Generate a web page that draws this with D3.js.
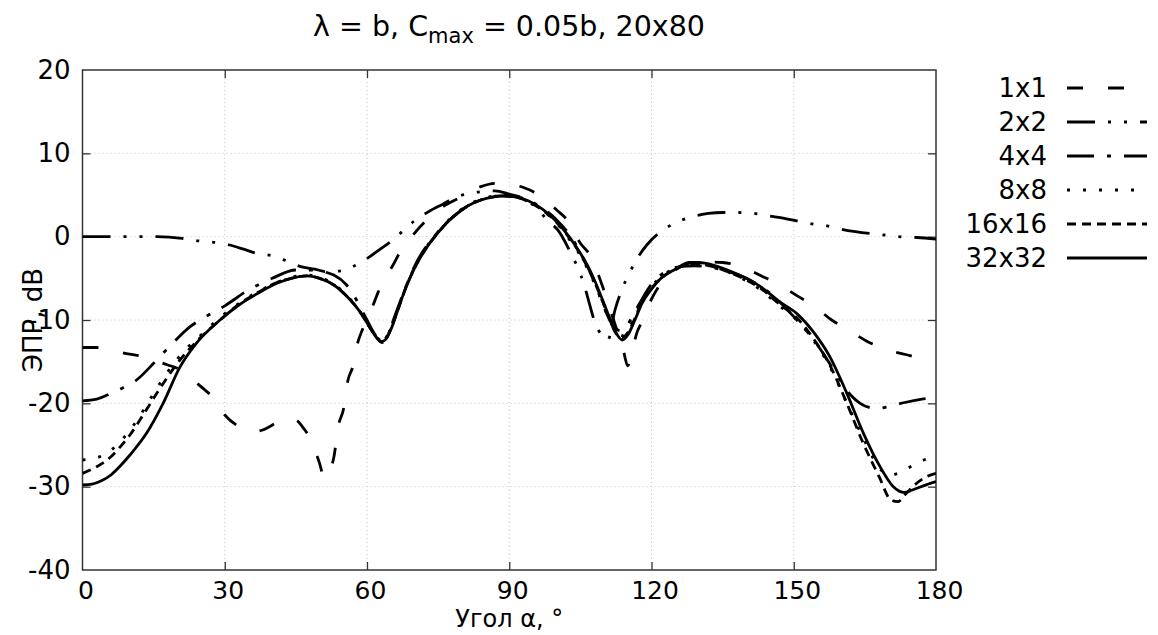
<!DOCTYPE html>
<html>
<head>
<meta charset="utf-8">
<script src="https://cdn.jsdelivr.net/npm/d3@7"></script>
<style>
  html, body { margin: 0; padding: 0; background: #fff; }
  svg { display: block; }
  text { font-family: "DejaVu Sans", sans-serif; fill: #000; }
</style>
</head>
<body>
<svg id="chart" width="1158" height="635"></svg>
<script>
// ---------- data ----------
const xTicks = [0, 30, 60, 90, 120, 150, 180];
const yTicks = [-40, -30, -20, -10, 0, 10, 20];
const seriesNames = ["1x1", "2x2", "4x4", "8x8", "16x16", "32x32"];

const angles1x1 = [0,3,6,9,12,15,18,20,23,25,27,30,33,36,38,41,43,45,46.5,48,50,51,52,53,54,55,56,57,58,59,60,61.3,62.4,64,65.5,67,70,72.6,75,80,84,87,90,93,96,100,102.5,105,107,110,112,114,115,116,117,118,120,125,130,135,138,143.5,146.5,151,154,158,161,165.6,168.8,174,177,180];
const values1x1 = [-13.3,-13.3,-13.6,-14,-14.3,-14.8,-15.4,-15.8,-17,-18,-19,-21.4,-22.8,-23.4,-23.2,-22.3,-21.8,-22,-22.9,-24.2,-27.2,-29,-28.3,-26.5,-22.6,-20.8,-17.2,-15.6,-12.8,-11.2,-9.8,-8.2,-6.6,-4.8,-3.4,-1.8,0.4,2,3.2,4.8,6,6.4,6.3,5.9,5.1,3.2,1.8,-0.8,-2.2,-6.5,-10,-13.5,-15.5,-13.5,-11.4,-10.2,-7.5,-4,-3,-3.1,-3.4,-4.8,-5.6,-7.2,-8.2,-10,-11,-12.6,-13.4,-14.2,-14.6,-14.8];

const angles2x2 = [0,6,9.4,12.5,15.7,21,24.4,28,31,34,36.7,40,43,46,49,51.5,54.7,58,60.6,63,65,67.6,70,73,76,79,81,84,87,90,93,95.8,98,100.5,103,104.5,105.7,106.6,108,109.8,110.8,112.3,114,115.5,117,119,123,126,129.4,132,135,138,141.5,144.6,148,153,157,160,163,169,172,176,180];
const values2x2 = [0,0,0,0,0,-0.2,-0.5,-0.7,-1,-1.5,-2,-2.3,-2.9,-3.6,-3.9,-4.2,-4.1,-3.3,-2.4,-1.4,-0.6,0.7,1.9,3,3.9,4.8,5.1,5.4,5.5,5.1,4.6,3.4,2,0.6,-2,-3.8,-5.6,-7.4,-10.2,-12,-12.4,-8.8,-6,-4.2,-2.6,-1,1,1.9,2.5,2.8,2.9,2.9,2.8,2.5,2.2,1.6,1.3,0.9,0.6,0.2,0,-0.1,-0.3];

const angles4x4 = [0,3,6,9,11.4,15,19,22.7,26,30,35,40,45,48,51.5,53,55.7,58,60,62,63.2,64.5,66,68,70,75,80,85,88,91,95,100,103,106,108,110,112,113.5,114.5,116,118,120,123,126,129,132,135,140,145,150,155,158,160,162,164,166,168,170,173.4,177,180];
const values4x4 = [-19.7,-19.5,-18.8,-18,-17.2,-15.2,-12.8,-10.8,-9.6,-8.3,-6.4,-5,-4,-4,-4.3,-4.6,-5.8,-7.8,-10,-12,-12.6,-11.6,-9.3,-6.3,-3.6,0.6,3.2,4.6,4.9,4.8,4.1,2,0,-3,-5.5,-8.5,-10.8,-11.3,-11,-9.5,-7.5,-5.7,-4.2,-3.6,-3.5,-3.6,-4,-5,-6.8,-9.6,-13,-15.6,-17.4,-19,-20,-20.5,-20.6,-20.4,-19.9,-19.5,-19.3];

const angles8x8 = [0,3.7,6.5,8.6,12,15,18,21,25,29,33,37,41,44,47.3,50,53,56,58.5,60.5,62,63.1,64,65,66.5,68,70,72,75,78,81,84,87,89,91,94,97,100,103,105,107,109,111,112.5,113.8,115,116.5,118,120,122,125,128,130,133,136,140,143,147,150.6,154.1,157.6,161.2,164.7,167.5,170,172,174,177,180];
const values8x8 = [-26.8,-26.4,-25.4,-24.2,-21.6,-18.8,-16.2,-14,-11.8,-9.7,-8,-6.6,-5.5,-4.9,-4.6,-4.9,-5.7,-7.2,-9,-10.8,-12,-12.5,-12.2,-11,-8.7,-6.3,-3.7,-1.7,0.6,2.4,3.7,4.5,4.9,5,4.9,4.3,3.2,1.6,-0.6,-2.3,-4.4,-7,-9.8,-11.4,-11.9,-11.2,-9.6,-7.6,-6,-4.8,-3.8,-3.3,-3.3,-3.6,-4.2,-5.3,-6.4,-8.3,-10,-12.4,-15.6,-20,-24.2,-27.3,-28.6,-28.4,-27.8,-26.9,-26.3];

const angles16x16 = [0,3,6,8,10,13,16,20,24,29,33,37,41,44,47.3,50,53,56,58.5,60.5,62,63.1,64,65,66.5,68,70,72,75,78,81,84,87,89,91,94,97,100,103,105,107,109,111,112.5,113.8,115,116.5,118,120,122,125,128,130,133,136,140,143,147,150.6,154.1,157.6,161.2,164.5,168,170.5,172,173.4,175.5,178,180];
const values16x16 = [-28.4,-27.6,-26.4,-25.2,-23.8,-21.2,-18.5,-15.2,-12.6,-10,-8.1,-6.7,-5.5,-5,-4.7,-5,-5.8,-7.3,-9,-10.8,-12.1,-12.7,-12.3,-11.1,-8.8,-6.4,-3.8,-1.8,0.5,2.3,3.6,4.4,4.8,4.9,4.8,4.2,3.2,1.7,-0.4,-2.1,-4.2,-6.8,-9.7,-11.6,-12.1,-11.5,-9.8,-7.8,-6.2,-5,-3.9,-3.3,-3.3,-3.6,-4.2,-5.2,-6.2,-8.1,-9.7,-12.2,-15.4,-20,-24.6,-28.8,-31.6,-31.8,-31,-29.8,-28.8,-28.4];

const angles32x32 = [0,2,4,6,8,10,13.5,17,20.6,24,29,33,37,41,44,47.3,50,53,56,58.5,60.5,62,63.1,64,65,66.5,68,70,72,75,78,81,84,87,89,91,94,97,100,103,105,107,109,111,112.5,113.8,115,116.5,118,120,122,125,128,130,133,136,140,143,147,150.6,154.1,157.6,161.2,164.7,168.2,171,173.4,175,178.8,180];
const values32x32 = [-29.8,-29.7,-29.3,-28.6,-27.5,-26.2,-23.6,-20,-15.6,-12.8,-10,-8.2,-6.8,-5.6,-5,-4.7,-5,-5.8,-7.3,-9,-10.8,-12.1,-12.6,-12.3,-11.2,-8.8,-6.4,-3.8,-1.8,0.5,2.3,3.6,4.4,4.8,4.9,4.8,4.3,3.3,1.8,-0.3,-2,-4,-6.6,-9.5,-11.5,-12.4,-11.8,-10,-8,-6.3,-5,-3.9,-3.1,-3.1,-3.4,-4,-5,-6,-7.8,-9.2,-11.4,-14.4,-18.8,-23.6,-27.6,-30,-30.7,-30.4,-29.6,-29.4];

const seriesAngles = [angles1x1, angles2x2, angles4x4, angles8x8, angles16x16, angles32x32];
const seriesValues = [values1x1, values2x2, values4x4, values8x8, values16x16, values32x32];
const dashes = ["16,25", "28,13,3,13,3,13", "27,13,4,13", "3,13", "9,6", null];

// ---------- layout ----------
const svg = d3.select("#chart");
const plot = { left: 82.5, right: 936, top: 70, bottom: 570 };
const x = d3.scaleLinear().domain([0, 180]).range([plot.left, plot.right]);
const y = d3.scaleLinear().domain([-40, 20]).range([plot.bottom, plot.top]);
const fontSize = 26;
const plainFormat = d => String(d);   // hyphen-minus, as in the original

// grid
const grid = svg.append("g");
grid.selectAll("line.gx").data(xTicks.slice(1, -1)).enter().append("line")
  .attr("x1", d => x(d)).attr("x2", d => x(d))
  .attr("y1", plot.top).attr("y2", plot.bottom)
  .attr("stroke", "#c4c4c4").attr("stroke-width", 1).attr("stroke-dasharray", "1,3");
grid.selectAll("line.gy").data(yTicks.slice(1, -1)).enter().append("line")
  .attr("x1", plot.left).attr("x2", plot.right)
  .attr("y1", d => y(d)).attr("y2", d => y(d))
  .attr("stroke", "#c4c4c4").attr("stroke-width", 1).attr("stroke-dasharray", "1,3");

// axes via d3 axes (inner ticks, mirrored)
const tickLen = 8;
const axB = svg.append("g").attr("transform", `translate(0,${plot.bottom})`)
  .call(d3.axisBottom(x).tickValues(xTicks).tickSize(-tickLen).tickPadding(11).tickFormat(plainFormat));
const axT = svg.append("g").attr("transform", `translate(0,${plot.top})`)
  .call(d3.axisTop(x).tickValues(xTicks).tickSize(-tickLen).tickFormat(""));
const axL = svg.append("g").attr("transform", `translate(${plot.left},0)`)
  .call(d3.axisLeft(y).tickValues(yTicks).tickSize(-tickLen).tickPadding(12).tickFormat(plainFormat));
const axR = svg.append("g").attr("transform", `translate(${plot.right},0)`)
  .call(d3.axisRight(y).tickValues(yTicks).tickSize(-tickLen).tickFormat(""));
[axB, axT, axL, axR].forEach(a => {
  a.select(".domain").remove();
  a.selectAll(".tick line").attr("stroke", "#333").attr("stroke-width", 1.3);
  a.selectAll("text").style("font-family", "DejaVu Sans").style("font-size", fontSize + "px").attr("fill", "#000");
});
axB.selectAll(".tick text").attr("dx", 3).style("font-size", "25px");
axB.selectAll(".tick").filter(d => d === 0 || d === 180).select("line").remove();
axT.selectAll(".tick").filter(d => d === 0 || d === 180).select("line").remove();
axL.selectAll(".tick").filter(d => d === -40 || d === 20).select("line").remove();
axR.selectAll(".tick").filter(d => d === -40 || d === 20).select("line").remove();

// frame
svg.append("rect").attr("x", plot.left).attr("y", plot.top)
  .attr("width", plot.right - plot.left).attr("height", plot.bottom - plot.top)
  .attr("fill", "none").attr("stroke", "#333").attr("stroke-width", 1.5);

// curves
svg.append("clipPath").attr("id", "clip").append("rect")
  .attr("x", plot.left).attr("y", plot.top)
  .attr("width", plot.right - plot.left).attr("height", plot.bottom - plot.top);
const line = d3.line().x(d => x(d[0])).y(d => y(d[1])).curve(d3.curveMonotoneX);
const curves = svg.append("g").attr("clip-path", "url(#clip)");
seriesNames.forEach((name, i) => {
  const pts = seriesAngles[i].map((a, j) => [a, seriesValues[i][j]]);
  curves.append("path").datum(pts).attr("d", line)
    .attr("fill", "none").attr("stroke", "#000").attr("stroke-width", 2.8)
    .attr("stroke-dasharray", dashes[i]);
});

// legend
const legendRowY = d3.scalePoint().domain(seriesNames).range([88, 258]);
const legend = svg.append("g");
seriesNames.forEach((name, i) => {
  const ly = legendRowY(name);
  legend.append("text").attr("x", 1047).attr("y", ly).attr("dy", "0.36em")
    .attr("text-anchor", "end").style("font-size", fontSize + "px").text(name);
  legend.append("line").attr("x1", 1067).attr("x2", 1147).attr("y1", ly).attr("y2", ly)
    .attr("stroke", "#000").attr("stroke-width", 2.8).attr("stroke-dasharray", dashes[i]);
});

// title
const title = svg.append("text").attr("x", 509).attr("y", 36).attr("text-anchor", "middle")
  .style("font-size", "28.5px");
title.append("tspan").text("λ = b, C");
title.append("tspan").attr("dy", 7).style("font-size", "21px").text("max");
title.append("tspan").attr("dy", -7).text(" = 0.05b, 20x80");

// axis labels
svg.append("text").attr("x", (plot.left + plot.right) / 2).attr("y", 627)
  .attr("text-anchor", "middle").style("font-size", "24px").text("Угол α, °");
svg.append("text").attr("transform", `translate(42,${(plot.top + plot.bottom) / 2}) rotate(-90)`)
  .attr("text-anchor", "middle").style("font-size", fontSize + "px").text("ЭПР, dB");
</script>
</body>
</html>
